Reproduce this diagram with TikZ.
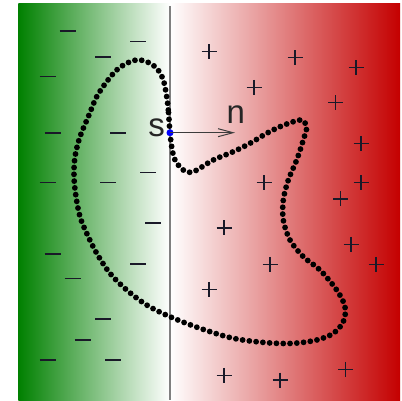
\documentclass[tikz,border=0pt]{standalone}
\usepackage{fontspec}
\setmainfont{Liberation Sans}
\usetikzlibrary{arrows.meta}
\definecolor{lgreen}{RGB}{0,128,0}
\definecolor{rred}{RGB}{196,0,0}
\definecolor{signcol}{RGB}{25,25,40}
\definecolor{arrowcol}{RGB}{60,60,60}
\begin{document}
\begin{tikzpicture}[x=1pt,y=-1pt,
  sign/.style={signcol, line width=1.5pt},
  msign/.pic={\draw[sign] (-8,0)--(8,0);},
  psign/.pic={\draw[sign] (-7.5,0)--(7.5,0) (0,-7.5)--(0,7.5);},
  lbl/.style={inner sep=0pt, font=\fontsize{33}{39}\selectfont, text=black!85},
  dotted curve/.style={line width=5.8pt, line cap=round, dash pattern=on 0pt off 6.8pt}]
\useasboundingbox (0,0) rectangle (402,401);
\shade[left color=lgreen, right color=white] (18.3,4) rectangle (170,401);
\shade[left color=white, right color=rred] (170,4) rectangle (400,401);
\draw[gray, line width=1.5pt] (170,6) -- (170,400);
% minus signs
\foreach \x/\y in {67.7/31, 138/41.3, 103/57, 47.7/76.3, 52.7/133, 118/133,
  47.7/182.7, 108/182.7, 148/172.7, 153/223, 52.7/254, 138/264, 72.7/278.7,
  103/319, 82.7/340, 47.7/360, 113/360}
  \pic at (\x,\y) {msign};
% plus signs
\foreach \x/\y in {209/51.7, 295/57.7, 356/67.7, 254/87.3, 335.7/102.7, 361/143.3,
  264/182.7, 361/182.7, 340.7/199, 224/228, 351/244.3, 376/264.3, 270/264.3,
  209/289.3, 224/375.3, 280/380, 345.7/369.3}
  \pic at (\x,\y) {psign};
% dotted closed curve
\draw[dotted curve] plot[smooth cycle, tension=0.55] coordinates {
 (170,132.7) (168.3,110) (166.7,96.7) (163.3,80) (156.7,68.3) (146.7,61.7)
 (136.7,60) (126.7,63.3) (116.7,70) (106.7,81.7) (96.7,96.7) (88.3,116.7)
 (80,136.7) (75,156.7) (74,176.7) (76,196.7) (80,216.7) (86.7,233.3)
 (96.7,253.3) (110,273.3) (126.7,290) (146.7,305) (170,316.7) (200,328.3)
 (233.3,338.3) (266.7,342.7) (293.3,343.3) (316.7,340) (333.3,333.3)
 (343.3,321.7) (345,306.7) (336.7,290) (320,270) (303.3,256.7) (290,240)
 (283.3,220) (283.3,200) (288.3,180) (296.7,160) (303.3,140) (306.7,126.7)
 (301.7,120) (293.3,121.7) (280,126.7) (266.7,133.3) (250,143.3) (233.3,151.7)
 (213.3,160) (193.3,171.7) (183.3,170) (175,160) (171.7,146.7)};
% point s and normal n
\node[circle, fill=blue, inner sep=0pt, minimum size=7pt] (s) at (170,132.7) {};
\coordinate (ntip) at (235,132.7);
\draw[arrowcol, line width=1pt, -{Straight Barb[length=15pt,width=8pt]}] (s.center) -- (ntip);
\node[lbl, anchor=base east] (slabel) at (165,136.7) {s};
\node[lbl, anchor=base] (nlabel) at (235.7,123.3) {n};
\end{tikzpicture}
\end{document}
